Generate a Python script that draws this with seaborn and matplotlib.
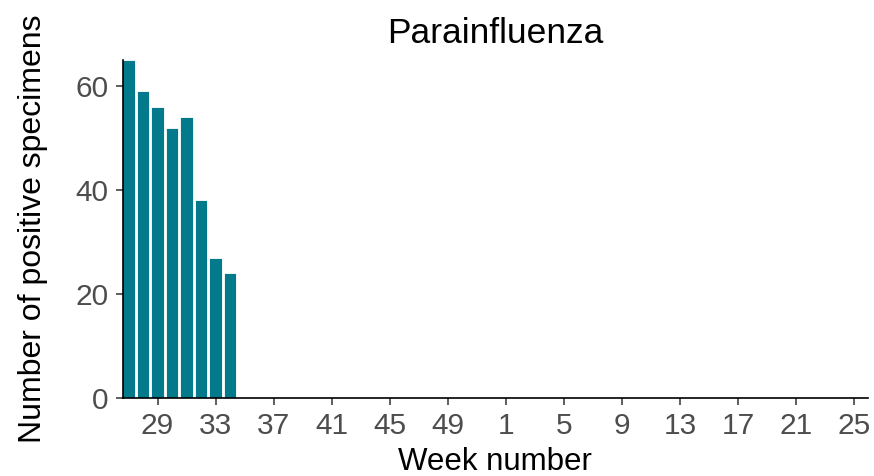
import matplotlib
matplotlib.use("Agg")
import matplotlib.pyplot as plt
import seaborn as sns
import pandas as pd

# season weeks 27..52 then 1..25
week_order = [str(w) for w in list(range(27, 53)) + list(range(1, 26))]
weeks = ["27", "28", "29", "30", "31", "32", "33", "34"]
counts = [65, 59, 56, 52, 54, 38, 27, 24]
y_ticks = [0, 20, 40, 60]

df = pd.DataFrame({"week": weeks, "count": counts})

sns.set_style("white")
plt.rcParams["font.family"] = ["Liberation Sans", "DejaVu Sans"]

fig = plt.figure(figsize=(8.74, 4.76), dpi=100)
ax = fig.add_axes([0.1404, 0.1639, 0.8527, 0.71])

sns.barplot(data=df, x="week", y="count", order=week_order, color="#037A8B",
            saturation=1, width=0.85, edgecolor="white", linewidth=0.6, ax=ax)

ax.set_xlim(-0.4, 50.96)
ax.set_ylim(0, 65)
ax.set_yticks(y_ticks)
tick_pos = list(range(2, len(week_order), 4))
ax.set_xticks(tick_pos)
ax.set_xticklabels([week_order[i] for i in tick_pos])

for side in ["top", "right"]:
    ax.spines[side].set_visible(False)
for side in ["left", "bottom"]:
    ax.spines[side].set_color("black")
    ax.spines[side].set_linewidth(1.2)

ax.tick_params(axis="both", which="major", length=5, width=1.1, color="#333333",
               labelsize=21.5, labelcolor="#4D4D4D", pad=5, left=True, bottom=True)

ax.set_xlabel("Week number", fontsize=22.5, color="black", labelpad=5)
ax.set_ylabel("Number of positive specimens", fontsize=23, color="black", labelpad=20)
ax.set_title("Parainfluenza", fontsize=25.5, color="black", pad=12)

fig.savefig("out.png", dpi=100)
